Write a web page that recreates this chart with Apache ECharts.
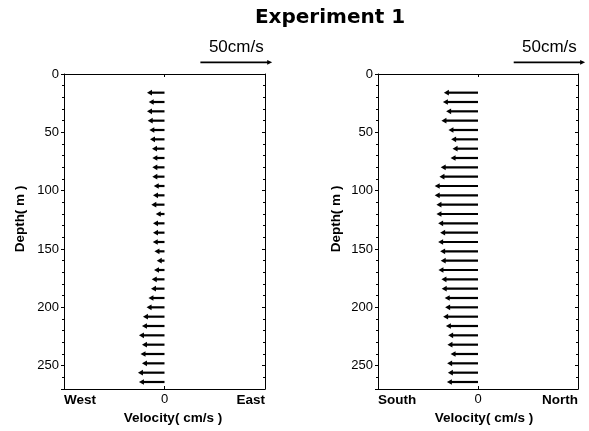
<!DOCTYPE html>
<html><head><meta charset="utf-8">
<script src="https://cdn.jsdelivr.net/npm/echarts/dist/echarts.min.js"></script>
<style>html,body{margin:0;padding:0;background:#fff}#c{width:589px;height:431px}</style>
</head><body><div id="c"></div>
<script>
// ---- data ----
var depths = [16,24,32,40,48,56,64,72,80,88,96,104,112,120,128,136,144,152,160,168,176,184,192,200,208,216,224,232,240,248,256,264];
// east velocity (cm/s, negative = westward)
var eastVel = [-12.2,-11.0,-12.2,-11.7,-10.6,-10.1,-8.7,-8.5,-8.5,-8.5,-7.5,-8.0,-9.2,-6.1,-8.0,-8.0,-8.2,-7.0,-5.4,-7.3,-8.9,-9.4,-11.2,-12.5,-15.0,-15.7,-17.8,-15.7,-16.7,-15.7,-18.5,-17.8];
// north velocity (cm/s, negative = southward)
var northVel = [-23.9,-24.6,-22.3,-25.6,-20.7,-18.8,-17.8,-19.2,-26.1,-27.0,-30.3,-30.3,-29.1,-29.1,-27.9,-26.5,-27.9,-26.5,-26.1,-27.7,-25.6,-25.4,-23.3,-23.0,-24.4,-22.5,-20.9,-21.4,-19.2,-21.6,-21.1,-21.8];
var xTickValues = [-70, 0, 70];
var xLabelsEW = ['West', '0', 'East'];
var xLabelsSN = ['South', '0', 'North'];
var yTickValues = [0, 50, 100, 150, 200, 250];
var depthMax = 270;
var velRange = 70;
var scaleSpeed = 50;
var scaleLabel = '50cm/s';
var titleText = 'Experiment 1';
var yName = 'Depth( m )';
var xName = 'Velocity( cm/s )';

// ---- chart ----
var chart = echarts.init(document.getElementById('c'), null, {renderer: 'canvas'});
var FONT = '"Liberation Sans", Arial, sans-serif';

function arrowItem(params, api) {
  var v = api.value(0), d = api.value(1);
  var p0 = api.coord([0, d]), p1 = api.coord([v, d]);
  var hl = 5, hw = 2.8;
  var dir = p1[0] < p0[0] ? 1 : -1;
  return {type: 'group', children: [
    {type: 'line', shape: {x1: p0[0], y1: p0[1], x2: p1[0] + dir * (hl - 1), y2: p1[1]},
     style: {stroke: '#000', lineWidth: 2.2}},
    {type: 'polygon', shape: {points: [[p1[0], p1[1]], [p1[0] + dir * hl, p1[1] - hw], [p1[0] + dir * hl, p1[1] + hw]]},
     style: {fill: '#000'}}
  ]};
}

function scaleItem(params, api) {
  var a = api.value(0), b = api.value(1), d = api.value(2);
  var p0 = api.coord([a, d]), p1 = api.coord([b, d]);
  var hl = 5, hw = 2.4;
  return {type: 'group', children: [
    {type: 'line', shape: {x1: p0[0], y1: p0[1], x2: p1[0] - hl + 1, y2: p1[1]},
     style: {stroke: '#000', lineWidth: 1.6}},
    {type: 'polygon', shape: {points: [[p1[0], p1[1]], [p1[0] - hl, p1[1] - hw], [p1[0] - hl, p1[1] + hw]]},
     style: {fill: '#000'}},
    {type: 'text', x: (p0[0] + p1[0]) / 2, y: p0[1] - 15.5,
     style: {text: scaleLabel, font: '17px ' + FONT, fill: '#000', align: 'center', verticalAlign: 'middle'}}
  ]};
}

function makeX(gi, labels) {
  return [{
    gridIndex: gi, type: 'value', min: -velRange, max: velRange, interval: velRange,
    position: 'bottom',
    axisLine: {show: true, onZero: false, lineStyle: {color: '#000', width: 1.2}},
    axisTick: {show: true, inside: true, length: 3, lineStyle: {color: '#000'}},
    splitLine: {show: false},
    axisLabel: {
      show: true, margin: 4, color: '#000', alignMinLabel: 'left', alignMaxLabel: 'right',
      formatter: function (val) {
        var i = xTickValues.indexOf(val);
        if (i < 0) return '';
        return val === 0 ? '{n|' + labels[i] + '}' : '{b|' + labels[i] + '}';
      },
      rich: {
        b: {fontFamily: FONT, fontWeight: 'bold', fontSize: 13.5, color: '#000'},
        n: {fontFamily: FONT, fontSize: 13, color: '#000'}
      }
    }
  }, {
    gridIndex: gi, type: 'value', min: -velRange, max: velRange, interval: velRange,
    position: 'top',
    axisLine: {show: true, onZero: false, lineStyle: {color: '#000', width: 1}},
    axisTick: {show: true, inside: true, length: 3, lineStyle: {color: '#000'}},
    splitLine: {show: false}, axisLabel: {show: false}
  }];
}

function makeY(gi) {
  return [{
    gridIndex: gi, type: 'value', inverse: true, min: 0, max: depthMax, interval: 50,
    position: 'left',
    axisLine: {show: true, onZero: false, lineStyle: {color: '#000', width: 1}},
    axisTick: {show: true, inside: false, length: 3, lineStyle: {color: '#000'}},
    minorTick: {show: true, splitNumber: 5, length: 2, lineStyle: {color: '#000'}},
    splitLine: {show: false},
    axisLabel: {show: true, margin: 5, color: '#000', fontFamily: FONT, fontSize: 13,
      formatter: function (val) { return yTickValues.indexOf(val) >= 0 ? String(val) : ''; }}
  }, {
    gridIndex: gi, type: 'value', inverse: true, min: 0, max: depthMax, interval: 50,
    position: 'right',
    axisLine: {show: true, onZero: false, lineStyle: {color: '#000', width: 1}},
    axisTick: {show: true, inside: true, length: 3, lineStyle: {color: '#000'}},
    minorTick: {show: true, splitNumber: 5, length: 2, lineStyle: {color: '#000'}},
    splitLine: {show: false}, axisLabel: {show: false}
  }];
}

var xAxes = makeX(0, xLabelsEW).concat(makeX(1, xLabelsSN));
var yAxes = makeY(0).concat(makeY(1));

var option = {
  backgroundColor: '#fff',
  animation: false,
  grid: [
    {left: 64, top: 74, width: 201, height: 315},
    {left: 378, top: 74, width: 200, height: 315}
  ],
  xAxis: xAxes,
  yAxis: yAxes,
  graphic: [
    {type: 'text', x: 330, y: 18, style: {text: titleText, font: 'bold 20px "DejaVu Sans", sans-serif', fill: '#000', align: 'center', verticalAlign: 'middle'}},
    {type: 'text', x: 20, y: 219, rotation: Math.PI / 2, style: {text: yName, font: 'bold 13.5px ' + FONT, fill: '#000', align: 'center', verticalAlign: 'middle'}},
    {type: 'text', x: 336, y: 219, rotation: Math.PI / 2, style: {text: yName, font: 'bold 13.5px ' + FONT, fill: '#000', align: 'center', verticalAlign: 'middle'}},
    {type: 'text', x: 173, y: 418, style: {text: xName, font: 'bold 13.5px ' + FONT, fill: '#000', align: 'center', verticalAlign: 'middle'}},
    {type: 'text', x: 484, y: 418, style: {text: xName, font: 'bold 13.5px ' + FONT, fill: '#000', align: 'center', verticalAlign: 'middle'}}
  ],
  series: [
    {type: 'custom', xAxisIndex: 0, yAxisIndex: 0, renderItem: arrowItem,
     data: depths.map(function (d, i) { return [eastVel[i], d]; })},
    {type: 'custom', xAxisIndex: 2, yAxisIndex: 2, renderItem: arrowItem,
     data: depths.map(function (d, i) { return [northVel[i], d]; })},
    {type: 'custom', xAxisIndex: 0, yAxisIndex: 0, renderItem: scaleItem, clip: false,
     data: [[25, 25 + scaleSpeed, -10]]},
    {type: 'custom', xAxisIndex: 2, yAxisIndex: 2, renderItem: scaleItem, clip: false,
     data: [[25, 25 + scaleSpeed, -10]]}
  ]
};
chart.setOption(option);
</script>
</body></html>
